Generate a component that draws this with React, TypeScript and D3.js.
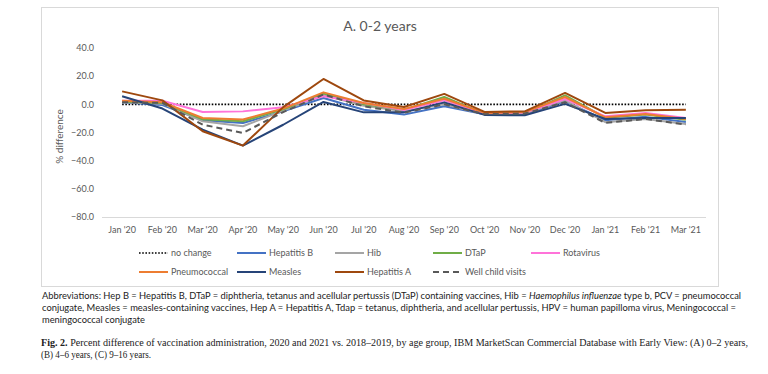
import React from "react";
import * as d3 from "d3";

// chart data (percent difference vs 2018-2019)
const months = ["Jan '20", "Feb '20", "Mar '20", "Apr '20", "May '20", "Jun '20", "Jul '20", "Aug '20", "Sep '20", "Oct '20", "Nov '20", "Dec '20", "Jan '21", "Feb '21", "Mar '21"];
const yTicks = [-80, -60, -40, -20, 0, 20, 40];

const noChange = [0, 0, 0, 0, 0, 0, 0, 0, 0, 0, 0, 0, 0, 0, 0];
const hepB = [1.5, -0.5, -11.3, -13.2, -5, 4.5, -3.8, -7.3, -1.4, -7, -7, 2.1, -11.3, -8.9, -12.5];
const hib = [1.5, 0.5, -12, -15.6, -4.5, 6.6, -1, -5, 0, -7, -6.5, 2.8, -12.7, -10.4, -13.9];
const dtap = [2, 1, -10.6, -12, -3.5, 7.6, 0, -4, 5.2, -6.8, -6.5, 6.4, -9.5, -7.3, -11];
const rotavirus = [2.6, 2.5, -5.4, -5, -2, 5.7, 1, -4, 2.8, -6.5, -6, 3.8, -8.5, -6.1, -9.7];
const pneumococcal = [2.6, 1.5, -9.7, -10.8, -3, 8.5, 1, -3.3, 4, -6.1, -5.5, 5.2, -9.2, -6.8, -10.4];
const measles = [5.7, -3, -18, -29.3, -14.5, 1.7, -5.7, -5.7, 1.4, -7.5, -7.8, 0.3, -10.4, -9.7, -9.7];
const hepA = [9.2, 2.8, -19.1, -29.3, -2, 18, 2.8, -1.9, 7.4, -5.4, -5, 8.1, -6.1, -4.2, -3.8];
const wellChild = [1.5, 1, -14.4, -20.3, -5.5, 7, -1.4, -6, 0, -7, -6.5, 1.5, -13.2, -10.4, -14.4];

const series = [
  { name: "no change", values: noChange, color: "#000000", width: 1.6, dash: "1.6 1.6" },
  { name: "Hepatitis B", values: hepB, color: "#4472C4", width: 2, dash: "" },
  { name: "Hib", values: hib, color: "#A5A5A5", width: 2, dash: "" },
  { name: "DTaP", values: dtap, color: "#70AD47", width: 2, dash: "" },
  { name: "Rotavirus", values: rotavirus, color: "#FF73D9", width: 2, dash: "" },
  { name: "Pneumococcal", values: pneumococcal, color: "#ED7D31", width: 2, dash: "" },
  { name: "Measles", values: measles, color: "#264478", width: 2, dash: "" },
  { name: "Hepatitis A", values: hepA, color: "#9E480E", width: 2, dash: "" },
  { name: "Well child visits", values: wellChild, color: "#595959", width: 2, dash: "6 4" },
];

const font = "Lato, 'Liberation Sans', sans-serif";

const App = () => {
  // plot frame
  const left = 102;
  const right = 706;
  const top = 48;
  const bottom = 217;

  const x = d3.scaleBand().domain(months).range([left, right]);
  const y = d3.scaleLinear().domain([-80, 40]).range([bottom, top]);
  const cx = (m: string) => (x(m) as number) + x.bandwidth() / 2;

  const line = d3
    .line<number>()
    .x((_, i) => cx(months[i]))
    .y((d) => y(d));

  // legend: 5 columns, 2 rows
  const legendX = (i: number) => 139 + (i % 5) * 98;
  const legendY = (i: number) => 253 + Math.floor(i / 5) * 19;

  return (
    <svg width={768} height={374} style={{ position: "absolute", left: 0, top: 0, background: "#fff" }}>
      <rect x={41.5} y={7.5} width={677} height={279} fill="#fff" stroke="#d9d9d9" />

      <text x={380} y={31} textAnchor="middle" fontFamily={font} fontSize={14} fill="#595959">
        A. 0-2 years
      </text>

      {/* y axis labels */}
      {yTicks.map((t) => (
        <text key={t} x={94} y={y(t) + 3.2} textAnchor="end" fontFamily={font} fontSize={9} fill="#595959">
          {d3.format(".1f")(t)}
        </text>
      ))}
      <text
        transform={`translate(63,${y(-20) + 4}) rotate(-90)`}
        textAnchor="middle"
        fontFamily={font}
        fontSize={10}
        fill="#595959"
      >
        % difference
      </text>

      {/* x axis */}
      <line x1={left} x2={right} y1={bottom + 0.5} y2={bottom + 0.5} stroke="#d9d9d9" />
      {months.map((m) => (
        <text key={m} x={cx(m)} y={233} textAnchor="middle" fontFamily={font} fontSize={9} fill="#595959">
          {m}
        </text>
      ))}

      {/* series */}
      {series.map((s) => (
        <path
          key={s.name}
          d={line(s.values) as string}
          fill="none"
          stroke={s.color}
          strokeWidth={s.width}
          strokeDasharray={s.dash || undefined}
          strokeLinejoin="round"
        />
      ))}

      {/* legend */}
      {series.map((s, i) => (
        <g key={s.name}>
          <line
            x1={legendX(i)}
            x2={legendX(i) + 29}
            y1={legendY(i)}
            y2={legendY(i)}
            stroke={s.color}
            strokeWidth={s.width}
            strokeDasharray={s.dash || undefined}
          />
          <text x={legendX(i) + 32} y={legendY(i) + 3.2} fontFamily={font} fontSize={9} fill="#595959">
            {s.name}
          </text>
        </g>
      ))}

      {/* notes */}
      <g fontFamily={font} fontSize={8.6} fill="#222">
        <text x={42} y={299} textLength={699} lengthAdjust="spacingAndGlyphs">
          Abbreviations: Hep B = Hepatitis B, DTaP = diphtheria, tetanus and acellular pertussis (DTaP) containing vaccines, Hib ={" "}
          <tspan fontStyle="italic">Haemophilus influenzae</tspan> type b, PCV = pneumococcal
        </text>
        <text x={42} y={311} textLength={694} lengthAdjust="spacingAndGlyphs">
          conjugate, Measles = measles-containing vaccines, Hep A = Hepatitis A, Tdap = tetanus, diphtheria, and acellular pertussis, HPV = human papilloma virus, Meningococcal =
        </text>
        <text x={42} y={323} textLength={103} lengthAdjust="spacingAndGlyphs">
          meningococcal conjugate
        </text>
      </g>
      <g fontFamily="'Liberation Serif', serif" fontSize={9.4} fill="#222">
        <text x={41} y={345.5} textLength={707} lengthAdjust="spacingAndGlyphs">
          <tspan fontWeight="bold">Fig. 2.</tspan>  Percent difference of vaccination administration, 2020 and 2021 vs. 2018–2019, by age group, IBM MarketScan Commercial Database with Early View: (A) 0–2 years,
        </text>
        <text x={41} y={357.5} textLength={110} lengthAdjust="spacingAndGlyphs">
          (B) 4–6 years, (C) 9–16 years.
        </text>
      </g>
    </svg>
  );
};

export default App;
